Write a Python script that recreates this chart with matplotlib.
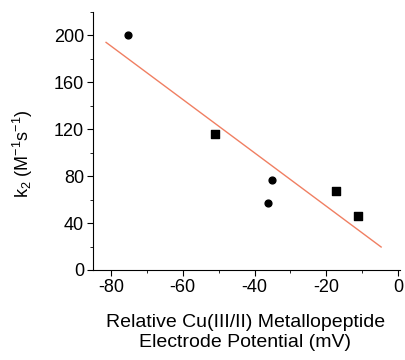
import matplotlib
matplotlib.use("Agg")
import matplotlib.pyplot as plt
from matplotlib.ticker import MultipleLocator

plt.rcParams['font.family'] = ['Liberation Sans', 'DejaVu Sans']
plt.rcParams['axes.unicode_minus'] = False
plt.rcParams['mathtext.fontset'] = 'custom'
plt.rcParams['mathtext.rm'] = 'Liberation Sans'

# data
circle_x = [-75.3, -35.1, -36.2]
circle_y = [200, 77, 57]
square_x = [-51.0, -17.2, -11.1]
square_y = [116, 67, 46]
fit_x = [-81.4, -4.7]
fit_y = [194, 19.6]

fig = plt.figure(figsize=(4.05, 3.6), dpi=100)
ax = fig.add_axes([0.23, 0.25, 0.758, 0.717])

ax.plot(fit_x, fit_y, color='#f07f62', lw=1.0)
ax.scatter(circle_x, circle_y, marker='o', s=24, color='black', zorder=3)
ax.scatter(square_x, square_y, marker='s', s=30, color='black', zorder=3)

ax.set_xlim(-85, 0.6)
ax.set_ylim(0, 220)
ax.xaxis.set_major_locator(MultipleLocator(20))
ax.xaxis.set_minor_locator(MultipleLocator(10))
ax.yaxis.set_minor_locator(MultipleLocator(20))
ax.set_yticks([0, 40, 80, 120, 160, 200])

for s in ['top', 'right']:
    ax.spines[s].set_visible(False)
ax.tick_params(which='major', direction='out', length=4.5, labelsize=13, pad=2)
ax.tick_params(which='minor', direction='out', length=2.5)

ax.set_xlabel('Relative Cu(III/II) Metallopeptide\nElectrode Potential (mV)',
              fontsize=14, linespacing=1.25)
ax.xaxis.set_label_coords(0.495, -0.17)
ax.xaxis.label.set_va('top')
ax.set_ylabel('k$_2$ (M$^{-1}$s$^{-1}$)', fontsize=13)
ax.yaxis.set_label_coords(-0.23, 0.45)
ax.yaxis.label.set_va('center')

fig.savefig('out.png', dpi=100)
